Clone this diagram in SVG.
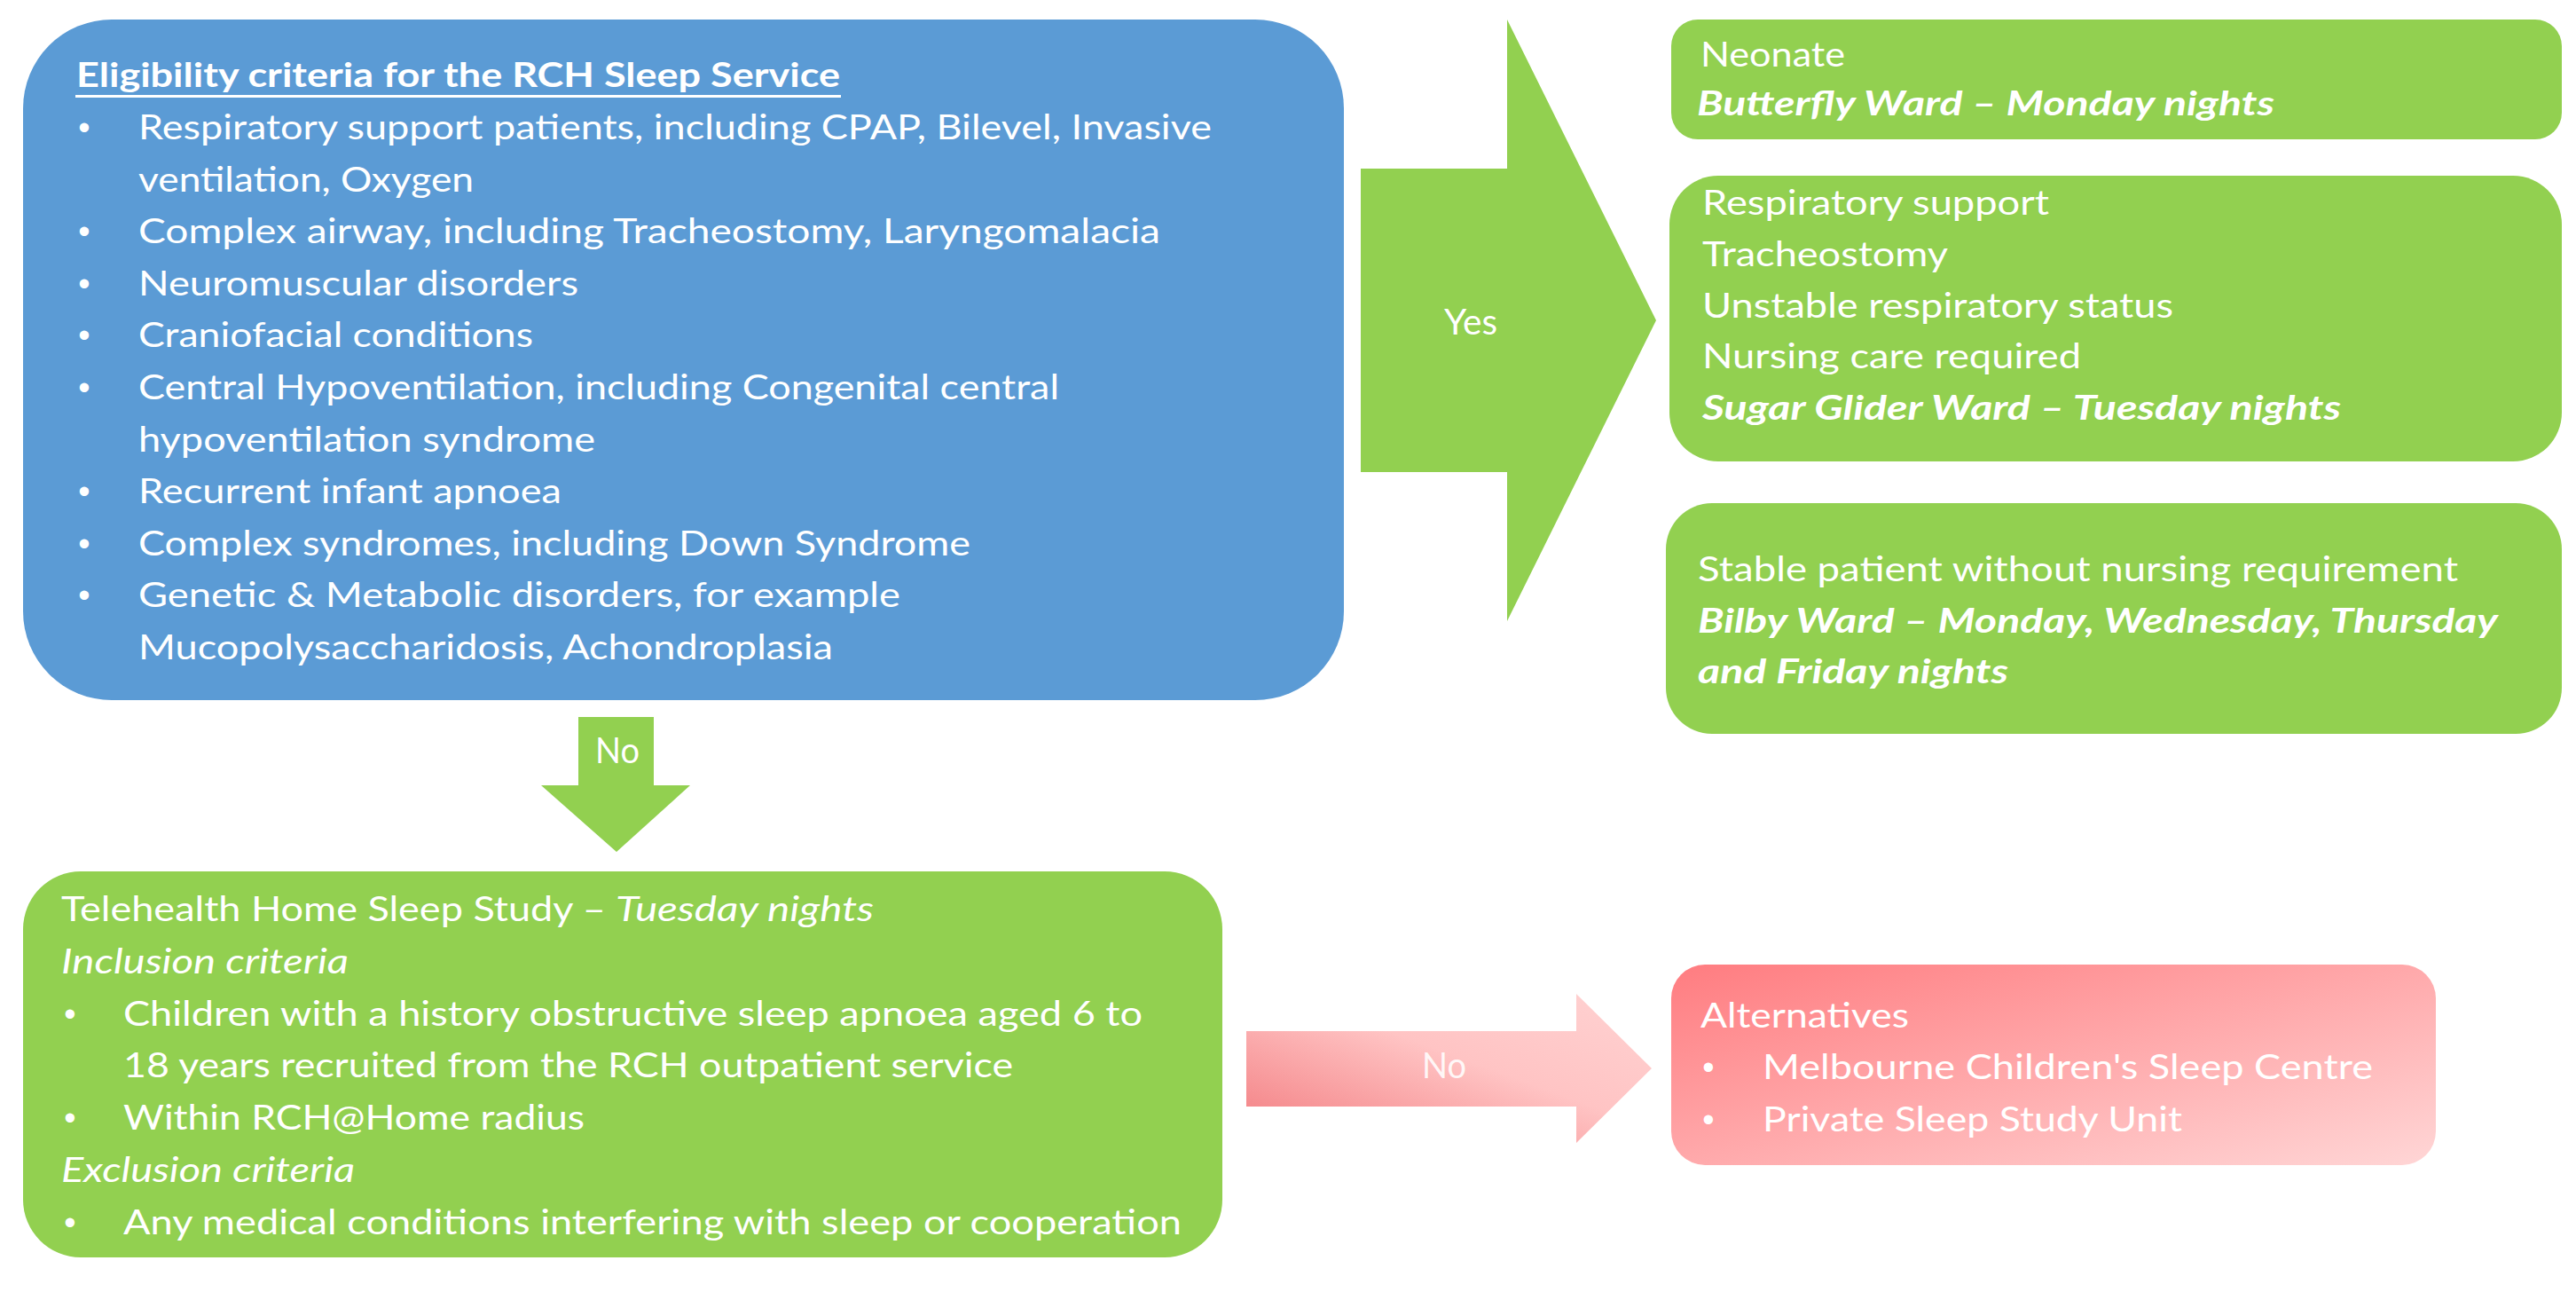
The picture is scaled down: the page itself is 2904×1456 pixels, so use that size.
<svg xmlns="http://www.w3.org/2000/svg" width="2904" height="1456" viewBox="0 0 2904 1456">
<defs>
<style>
.t{font-family:Lato,"Liberation Sans",sans-serif;font-size:38px;fill:#ffffff}
.b{font-weight:bold}
.i{font-style:italic}
.bi{font-weight:bold;font-style:italic}
.bul{font-family:"Liberation Sans",sans-serif;font-size:38px;fill:#ffffff;text-anchor:middle}
.lbl{font-family:Lato,"Liberation Sans",sans-serif;font-size:40px;fill:#ffffff;text-anchor:middle}
.green{fill:#92D050}
.blue{fill:#5B9BD5}
</style>
<linearGradient id="redBox" x1="0" y1="0" x2="1" y2="1">
<stop offset="0" stop-color="#FF7C80"/>
<stop offset="1" stop-color="#FFD6D6"/>
</linearGradient>
<linearGradient id="redArrow" x1="0" y1="1" x2="1" y2="0">
<stop offset="0" stop-color="#F27A7E"/>
<stop offset="0.55" stop-color="#FFC4C4"/>
<stop offset="1" stop-color="#FFD2D2"/>
</linearGradient>
</defs>
<rect width="2904" height="1456" fill="#ffffff"/>

<g id="connectors">
<g id="yes-arrow">
<polygon class="green" points="1534,190 1699,190 1699,22 1867,361 1699,700 1699,532 1534,532"/>
<text class="lbl" x="1658" y="377" textLength="60" lengthAdjust="spacingAndGlyphs">Yes</text>
</g>
<g id="no-arrow-down">
<polygon class="green" points="652,808 737,808 737,885 778,885 695,960 610,885 652,885"/>
<text class="lbl" x="696" y="860" textLength="50" lengthAdjust="spacingAndGlyphs">No</text>
</g>
<g id="no-arrow-right">
<polygon fill="url(#redArrow)" points="1405,1162 1777,1162 1777,1120 1862,1204 1777,1288 1777,1247 1405,1247"/>
<text class="lbl" x="1628" y="1215" textLength="50" lengthAdjust="spacingAndGlyphs" fill-opacity="0.9">No</text>
</g>
</g>

<g id="eligibility">
<rect class="blue" x="26" y="22" width="1489" height="767" rx="100" ry="100"/>
<text class="t b" x="86" y="98" font-size="33" textLength="861" lengthAdjust="spacingAndGlyphs">Eligibility criteria for the RCH Sleep Service</text>
<line x1="85" y1="108.5" x2="948" y2="108.5" stroke="#ffffff" stroke-width="3"/>
<text class="bul" x="95" y="157">•</text>
<text class="t" x="156" y="157" textLength="1210" lengthAdjust="spacingAndGlyphs">Respiratory support patients, including CPAP, Bilevel, Invasive</text>
<text class="t" x="156" y="216" textLength="378" lengthAdjust="spacingAndGlyphs">ventilation, Oxygen</text>
<text class="bul" x="95" y="274">•</text>
<text class="t" x="156" y="274" textLength="1152" lengthAdjust="spacingAndGlyphs">Complex airway, including Tracheostomy, Laryngomalacia</text>
<text class="bul" x="95" y="333">•</text>
<text class="t" x="156" y="333" textLength="496" lengthAdjust="spacingAndGlyphs">Neuromuscular disorders</text>
<text class="bul" x="95" y="391">•</text>
<text class="t" x="156" y="391" textLength="445" lengthAdjust="spacingAndGlyphs">Craniofacial conditions</text>
<text class="bul" x="95" y="450">•</text>
<text class="t" x="156" y="450" textLength="1038" lengthAdjust="spacingAndGlyphs">Central Hypoventilation, including Congenital central</text>
<text class="t" x="156" y="509" textLength="515" lengthAdjust="spacingAndGlyphs">hypoventilation syndrome</text>
<text class="bul" x="95" y="567">•</text>
<text class="t" x="156" y="567" textLength="477" lengthAdjust="spacingAndGlyphs">Recurrent infant apnoea</text>
<text class="bul" x="95" y="626">•</text>
<text class="t" x="156" y="626" textLength="938" lengthAdjust="spacingAndGlyphs">Complex syndromes, including Down Syndrome</text>
<text class="bul" x="95" y="684">•</text>
<text class="t" x="156" y="684" textLength="859" lengthAdjust="spacingAndGlyphs">Genetic &amp; Metabolic disorders, for example</text>
<text class="t" x="156" y="743" textLength="783" lengthAdjust="spacingAndGlyphs">Mucopolysaccharidosis, Achondroplasia</text>
</g>

<g id="neonate">
<rect class="green" x="1884" y="22" width="1004" height="135" rx="30" ry="30"/>
<text class="t" x="1917" y="75" textLength="163" lengthAdjust="spacingAndGlyphs">Neonate</text>
<text class="t bi" x="1913" y="130" textLength="651" lengthAdjust="spacingAndGlyphs">Butterfly Ward – Monday nights</text>
</g>

<g id="sugar-glider">
<rect class="green" x="1882" y="198" width="1006" height="322" rx="55" ry="55"/>
<text class="t" x="1919" y="242" textLength="391" lengthAdjust="spacingAndGlyphs">Respiratory support</text>
<text class="t" x="1919" y="300" textLength="277" lengthAdjust="spacingAndGlyphs">Tracheostomy</text>
<text class="t" x="1919" y="358" textLength="531" lengthAdjust="spacingAndGlyphs">Unstable respiratory status</text>
<text class="t" x="1919" y="415" textLength="427" lengthAdjust="spacingAndGlyphs">Nursing care required</text>
<text class="t bi" x="1919" y="473" textLength="720" lengthAdjust="spacingAndGlyphs">Sugar Glider Ward – Tuesday nights</text>
</g>

<g id="bilby">
<rect class="green" x="1878" y="567" width="1010" height="260" rx="52" ry="52"/>
<text class="t" x="1914" y="655" textLength="857" lengthAdjust="spacingAndGlyphs">Stable patient without nursing requirement</text>
<text class="t bi" x="1914" y="713" textLength="902" lengthAdjust="spacingAndGlyphs">Bilby Ward – Monday, Wednesday, Thursday</text>
<text class="t bi" x="1914" y="770" textLength="350" lengthAdjust="spacingAndGlyphs">and Friday nights</text>
</g>

<g id="telehealth">
<rect class="green" x="26" y="982" width="1352" height="435" rx="65" ry="65"/>
<text class="t" x="69" y="1038" textLength="614" lengthAdjust="spacingAndGlyphs">Telehealth Home Sleep Study –</text>
<text class="t i" x="694" y="1038" textLength="291" lengthAdjust="spacingAndGlyphs">Tuesday nights</text>
<text class="t i" x="69" y="1097" textLength="324" lengthAdjust="spacingAndGlyphs">Inclusion criteria</text>
<text class="bul" x="79" y="1156">•</text>
<text class="t" x="139" y="1156" textLength="1149" lengthAdjust="spacingAndGlyphs">Children with a history obstructive sleep apnoea aged 6 to</text>
<text class="t" x="139" y="1214" textLength="1003" lengthAdjust="spacingAndGlyphs">18 years recruited from the RCH outpatient service</text>
<text class="bul" x="79" y="1273">•</text>
<text class="t" x="139" y="1273" textLength="520" lengthAdjust="spacingAndGlyphs">Within RCH@Home radius</text>
<text class="t i" x="69" y="1332" textLength="331" lengthAdjust="spacingAndGlyphs">Exclusion criteria</text>
<text class="bul" x="79" y="1391">•</text>
<text class="t" x="139" y="1391" textLength="1193" lengthAdjust="spacingAndGlyphs">Any medical conditions interfering with sleep or cooperation</text>
</g>

<g id="alternatives">
<rect fill="url(#redBox)" x="1884" y="1087" width="862" height="226" rx="38" ry="38"/>
<text class="t" x="1917" y="1158" textLength="235" lengthAdjust="spacingAndGlyphs">Alternatives</text>
<text class="bul" x="1926" y="1216">•</text>
<text class="t" x="1987" y="1216" textLength="688" lengthAdjust="spacingAndGlyphs">Melbourne Children's Sleep Centre</text>
<text class="bul" x="1926" y="1275">•</text>
<text class="t" x="1987" y="1275" textLength="473" lengthAdjust="spacingAndGlyphs">Private Sleep Study Unit</text>
</g>
</svg>
